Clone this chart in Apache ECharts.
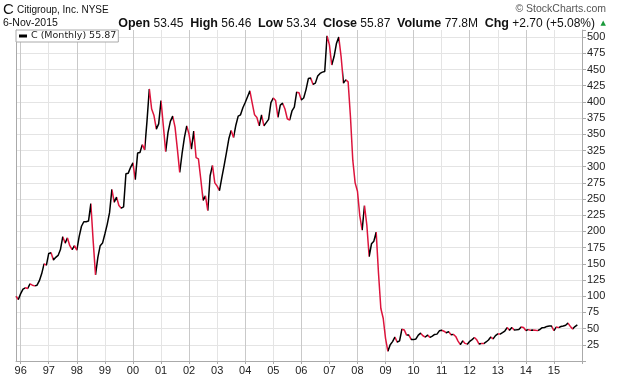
<!DOCTYPE html>
<html><head><meta charset="utf-8">
<script src="https://cdn.jsdelivr.net/npm/echarts@6/dist/echarts.min.js"></script>
<style>html,body{margin:0;padding:0;background:#fff}#c{width:620px;height:376px}</style>
</head><body><div id="c"></div>
<script>
// Monthly closes, Nov 1995 .. Nov 2015
const startYear = 1995, startMonth = 11;
const monthCount = 243; // axis runs through Jan 2016
const yearTickLabels = ['96','97','98','99','00','01','02','03','04','05','06','07','08','09','10','11','12','13','14','15'];
const closes = [
  100, 95, 104, 111, 113, 112, 119, 117, 116, 117, 124, 135,
  150, 148, 166, 167, 156, 160, 163, 172, 192, 182, 190, 178,
  172, 178, 171, 192, 208, 215, 215, 216, 243, 185, 133, 160,
  178, 182, 196, 211, 229, 265, 245, 253, 240, 236, 238, 289,
  290, 299, 306, 280, 321, 322, 334, 326, 370, 420, 389, 379,
  358, 366, 402, 363, 323, 353, 370, 378, 361, 327, 291, 320,
  345, 363, 350, 327, 355, 314, 312, 281, 248, 255, 232, 286,
  302, 275, 270, 263, 283, 302, 322, 343, 356, 345, 364, 378,
  380, 391, 399, 408, 417, 398, 380, 376, 363, 380, 363, 368,
  373, 399, 406, 402, 376, 395, 398, 389, 374, 372, 386, 392,
  415, 414, 403, 406, 419, 436, 437, 427, 429, 440, 444, 446,
  447, 502, 488, 457, 470, 490, 500, 470, 429, 434, 431, 377,
  310, 275, 262, 224, 202, 240, 210, 161, 181, 185, 199, 135,
  81, 66, 35, 15, 25, 30, 37, 29, 31, 49, 48, 40,
  40, 33, 33, 34, 40, 43, 39, 37, 40, 36.5, 38.5, 41,
  41.5, 46.6, 47.5, 46, 43.6, 45.3, 40.6, 41.1, 37.9, 30.7, 25.3, 31.2,
  27.2, 26, 30.4, 33, 36.2, 32.7, 26.2, 27.1, 26.9, 29.4, 32.4, 37,
  34.2, 39.2, 41.8, 41.6, 43.9, 46.3, 51.6, 47.6, 51.8, 48, 48.2, 48.5,
  52.6, 51.8, 47.2, 48.4, 47.4, 47.7, 47.4, 46.9, 48.7, 51.5, 51.7, 53.4,
  53.9, 54, 46.9, 52.4, 51.5, 53.3, 54, 55.2, 58.4, 53.4, 49.6, 53.17,
  55.87
];
const seriesName = 'C (Monthly) 55.87';
const upColor = '#000000', downColor = '#dc143c';

const categories = [];
for (let k = 0; k < monthCount; k++) {
  const m0 = startMonth - 1 + k;
  const y = startYear + Math.floor(m0 / 12);
  const m = m0 % 12 + 1;
  categories.push(y + '-' + String(m).padStart(2, '0'));
}
const isJan = (v) => v.endsWith('-01');
const yearLabel = (v) => { const s = v.slice(2, 4); return yearTickLabels.indexOf(s) >= 0 && isJan(v) ? s : ''; };

// down segments coloured red
const pieces = [];
for (let i = 1; i < closes.length; i++) {
  if (closes[i] < closes[i - 1]) {
    const last = pieces[pieces.length - 1];
    if (last && last.lte === i - 1) last.lte = i;
    else pieces.push({ gt: i - 1, lte: i, color: downColor });
  }
}

const chart = echarts.init(document.getElementById('c'), null, { renderer: 'canvas' });
chart.setOption({
  animation: false,
  backgroundColor: '#fff',
  grid: { left: 16, right: 38, top: 30, bottom: 15, containLabel: false },
  xAxis: {
    type: 'category', data: categories, boundaryGap: false,
    axisLine: { show: true, lineStyle: { color: '#aaa', width: 1 } },
    axisTick: { show: true, length: 3, interval: (i, v) => isJan(v), lineStyle: { color: '#aaa' } },
    axisLabel: { interval: (i, v) => isJan(v), formatter: yearLabel, fontFamily: 'Liberation Sans', fontSize: 11, color: '#222', margin: 4 },
    splitLine: { show: true, interval: (i, v) => isJan(v), lineStyle: { color: ['#c9c9c9', '#e4e4e4'], width: 1 } }
  },
  yAxis: [{
    type: 'value', position: 'right', min: 0, max: 511, interval: 25,
    axisLine: { show: true, lineStyle: { color: '#aaa' } },
    axisTick: { show: true, length: 4, lineStyle: { color: '#aaa' } },
    axisLabel: { fontFamily: 'Liberation Sans', fontSize: 11, color: '#222', margin: 5,
      formatter: (v) => (v > 0 && v % 25 === 0) ? String(v) : '' },
    splitLine: { show: true, showMinLine: false, showMaxLine: false, lineStyle: { color: '#e4e4e4' } }
  }, {
    type: 'value', position: 'left', min: 0, max: 511,
    axisLine: { show: true, lineStyle: { color: '#aaa' } },
    axisTick: { show: false }, axisLabel: { show: false }, splitLine: { show: false }
  }],
  visualMap: { type: 'piecewise', show: false, dimension: 0, seriesIndex: 0, pieces: pieces, outOfRange: { color: upColor } },
  legend: {
    left: 16, top: 30, orient: 'horizontal', icon: 'rect', itemWidth: 8, itemHeight: 3, itemGap: 0,
    padding: [1, 2, 1, 3], borderColor: '#aaa', borderWidth: 1, borderRadius: 0, backgroundColor: '#fff',
    textStyle: { fontFamily: 'DejaVu Sans', fontSize: 9.5, color: '#222', padding: [0, 0, 0, -1] },
    data: [{ name: seriesName, itemStyle: { color: '#000' } }]
  },
  series: [{
    name: seriesName, type: 'line', data: closes, showSymbol: false, symbol: 'none',
    lineStyle: { width: 1.5 }, itemStyle: { color: '#000' }, z: 5
  }],
  graphic: [
    { type: 'text', left: 3, top: 2, style: { text: 'C', fontFamily: 'Liberation Sans', fontSize: 15, fill: '#111' } },
    { type: 'text', left: 17, top: 5, style: { text: 'Citigroup, Inc. NYSE', fontFamily: 'Liberation Sans', fontSize: 10, fill: '#111' } },
    { type: 'text', left: 3, top: 18, style: { text: '6-Nov-2015', fontFamily: 'Liberation Sans', fontSize: 10.5, fill: '#111' } },
    { type: 'text', right: 14, top: 4, style: { text: '\u00A9 StockCharts.com', fontFamily: 'Liberation Sans', fontSize: 10.5, fill: '#555' } },
    { type: 'text', right: 25, top: 17, style: {
      text: '{b|Open} 53.45  {b|High} 56.46  {b|Low} 53.34  {b|Close} 55.87  {b|Volume} 77.8M  {b|Chg} +2.70 (+5.08%)',
      fontFamily: 'Liberation Sans', fontSize: 12, fill: '#111',
      rich: { b: { fontFamily: 'Liberation Sans', fontSize: 12.5, fontWeight: 'bold', fill: '#111' } } } },
    { type: 'text', right: 14, top: 20, style: { text: '\u25B2', fontFamily: 'DejaVu Sans', fontSize: 7, fill: '#1a9a3a' } }
  ]
});
</script></body></html>
